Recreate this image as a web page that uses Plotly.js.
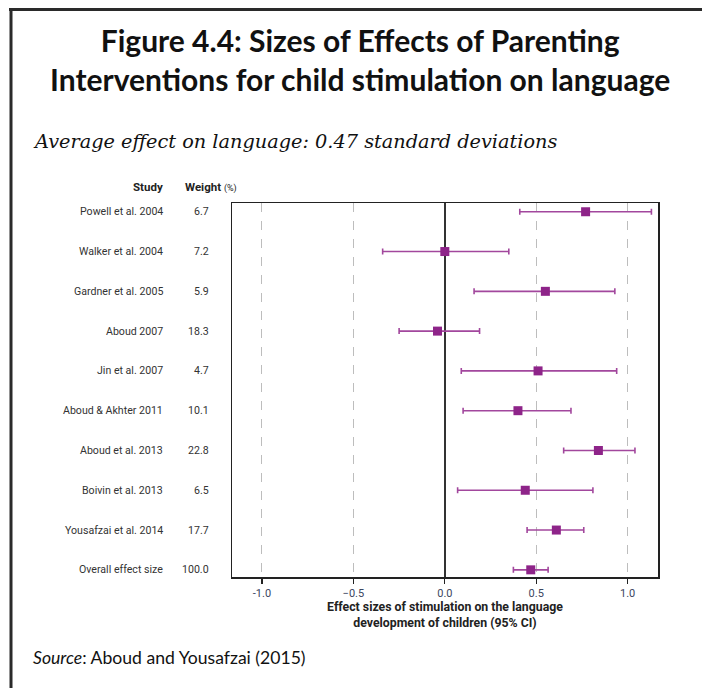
<!DOCTYPE html>
<html>
<head>
<meta charset="utf-8">
<script src="https://cdn.plot.ly/plotly-3.0.1.min.js"></script>
<style>
  html, body { margin: 0; padding: 0; background: #fff; }
  #chart { width: 702px; height: 688px; }
</style>
</head>
<body>
<div id="chart"></div>
<script>
// Forest plot: parenting interventions for child stimulation, effect on language
const studies = [
  "Powell et al. 2004", "Walker et al. 2004", "Gardner et al. 2005", "Aboud 2007",
  "Jin et al. 2007", "Aboud & Akhter 2011", "Aboud et al. 2013", "Boivin et al. 2013",
  "Yousafzai et al. 2014", "Overall effect size"
];
const weights = ["6.7", "7.2", "5.9", "18.3", "4.7", "10.1", "22.8", "6.5", "17.7", "100.0"];
const effects = [0.77, 0.00, 0.55, -0.04, 0.51, 0.40, 0.84, 0.44, 0.61, 0.47];
const ciLow   = [0.41, -0.34, 0.16, -0.25, 0.09, 0.10, 0.65, 0.07, 0.45, 0.375];
const ciHigh  = [1.13, 0.35, 0.93, 0.19, 0.94, 0.69, 1.04, 0.81, 0.76, 0.565];
const xTicks = [-1.0, -0.5, 0.0, 0.5, 1.0];
const xTickText = ["-1.0", "\u22120.5", "0.0", "0.5", "1.0"];

// plot box in pixels (for placing the surrounding text)
const W = 702, H = 688;
const box = { l: 232, r: 658, t: 203, b: 577 };
const px = x => (x - box.l) / (box.r - box.l);
const py = y => (box.b - y) / (box.b - box.t);

const purple = "#8e2489";
const purpleLine = "#a2479d";
const textDark = "#333333";
const narrow = "'Roboto', 'Lato', sans-serif";

const trace = {
  type: "scatter",
  mode: "markers",
  x: effects,
  y: studies,
  marker: { symbol: "square", size: 9, color: purple },
  error_x: {
    type: "data",
    symmetric: false,
    array: effects.map((v, i) => ciHigh[i] - v),
    arrayminus: effects.map((v, i) => v - ciLow[i]),
    color: purpleLine,
    thickness: 1.6,
    width: 3
  },
  hoverinfo: "x+y",
  showlegend: false
};

const annotations = [];
studies.forEach((s, i) => {
  annotations.push({
    xref: "paper", yref: "y", x: px(165), y: s, xanchor: "right", yanchor: "middle",
    text: s, showarrow: false, font: { family: narrow, size: 10.6, color: textDark }
  });
  annotations.push({
    xref: "paper", yref: "y", x: px(211), y: s, xanchor: "right", yanchor: "middle",
    text: weights[i], showarrow: false, font: { family: narrow, size: 10.6, color: textDark }
  });
});
annotations.push({
  xref: "paper", yref: "paper", x: px(165), y: py(187), xanchor: "right", yanchor: "middle",
  text: "<b>Study</b>", showarrow: false, font: { family: narrow, size: 11.5, color: "#222" }
});
annotations.push({
  xref: "paper", yref: "paper", x: px(183), y: py(187), xanchor: "left", yanchor: "middle",
  text: "<b>Weight</b> <span style='font-size:9px'>(%)</span>", showarrow: false,
  font: { family: narrow, size: 11.5, color: "#222" }
});
annotations.push({
  xref: "paper", yref: "paper", x: px(31), y: py(141), xanchor: "left", yanchor: "middle",
  text: "<i>Average effect on language: 0.47 standard deviations</i>", showarrow: false,
  font: { family: "'DejaVu Serif', 'Liberation Serif', serif", size: 19.3, color: "#111" }
});
annotations.push({
  xref: "paper", yref: "paper", x: px(31), y: py(657), xanchor: "left", yanchor: "middle",
  text: "<i>Source</i>: Aboud and Yousafzai (2015)", showarrow: false,
  font: { family: "Lato, 'Open Sans', sans-serif", size: 17.6, color: "#111" }
});

// outer frame: top and left edges
const shapes = [
  { type: "line", xref: "paper", yref: "paper", x0: px(9), x1: px(W), y0: py(9.5), y1: py(9.5),
    line: { color: "#2a2a2a", width: 3 } },
  { type: "line", xref: "paper", yref: "paper", x0: px(11), x1: px(11), y0: py(8), y1: py(H),
    line: { color: "#2a2a2a", width: 3 } }
];

const layout = {
  width: W, height: H,
  margin: { l: box.l, r: W - box.r, t: box.t, b: H - box.b, pad: 0 },
  paper_bgcolor: "#ffffff", plot_bgcolor: "#ffffff",
  title: {
    text: "<b>Figure 4.4: Sizes of Effects of Parenting<br>Interventions for child stimulation on language</b>",
    x: 0.513, xanchor: "center", xref: "container",
    y: 1 - 52 / H, yanchor: "middle", yref: "container",
    font: { family: "Lato, 'Open Sans', sans-serif", size: 30, color: "#111" }
  },
  xaxis: {
    range: [-1.164, 1.166],
    tickvals: xTicks, ticktext: xTickText,
    ticks: "outside", ticklen: 5, tickwidth: 1.3, tickcolor: "#222",
    tickfont: { family: narrow, size: 11, color: "#3c4660" },
    showgrid: true, gridcolor: "#bdbdbd", griddash: "dash", gridwidth: 1,
    zeroline: true, zerolinecolor: "#333", zerolinewidth: 1.5,
    showline: true, mirror: true, linecolor: "#222", linewidth: 1.5,
    fixedrange: true,
    title: {
      text: "<b>Effect sizes of stimulation on the language<br>development of children (95% CI)</b>",
      standoff: 0,
      font: { family: narrow, size: 12.3, color: "#222" }
    }
  },
  yaxis: {
    type: "category",
    categoryorder: "array", categoryarray: studies,
    range: [9.18, -0.22],
    showticklabels: false, ticks: "",
    showgrid: false, zeroline: false,
    showline: true, mirror: true, linecolor: "#222", linewidth: 1.5,
    fixedrange: true
  },
  annotations: annotations,
  shapes: shapes
};

Plotly.newPlot("chart", [trace], layout, { displayModeBar: false, staticPlot: true });
</script>
</body>
</html>
